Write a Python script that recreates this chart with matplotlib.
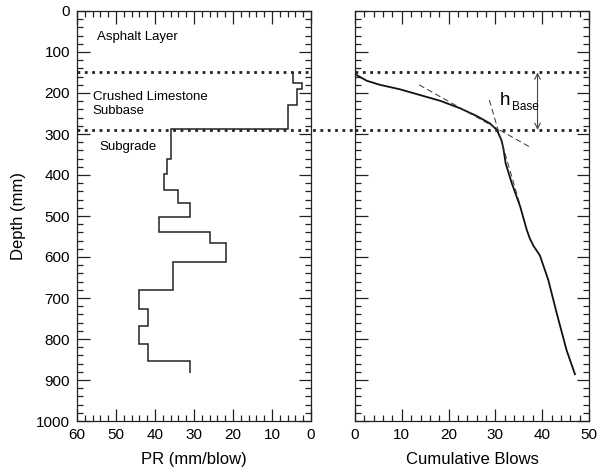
import numpy as np
import matplotlib.pyplot as plt
from matplotlib.ticker import MultipleLocator

plt.rcParams['font.family'] = ['Liberation Sans', 'DejaVu Sans']

# layer boundaries (mm)
base_top = 150
base_bottom = 290

# penetration rate steps: depth edges and PR per layer
pr_edges = [150, 176, 190, 229, 289, 362, 398, 437, 469, 502, 540, 567,
            611, 681, 726, 768, 811, 853, 884]
pr_values = [4.6, 2.2, 3.6, 6.0, 36.0, 37.0, 37.7, 34.0, 30.9, 38.9, 25.9,
             21.9, 35.3, 44.1, 41.9, 44.1, 41.9, 30.9]

# cumulative blows vs depth
blows = [0, 2.5, 5.3, 9.6, 13.9, 18.2, 22.4, 26.0, 28.8, 30.3, 31.3, 31.7,
         31.9, 32.2, 33.5, 35.3, 36.7, 37.4, 38.2, 39.5, 41.3, 43.1, 45.2, 47.0]
blow_depth = [154, 170, 180, 191, 205, 219, 237, 256, 274, 290, 315, 335,
              350, 372, 420, 477, 534, 556, 574, 596, 656, 737, 827, 886]

# tangent lines (blows, depth)
tan1_x = [13.7, 37.4]
tan1_y = [180, 332]
tan2_x = [28.7, 35.4]
tan2_y = [217, 478]

fig = plt.figure(figsize=(5.97, 4.73), dpi=100)
ax1 = fig.add_axes([77 / 597, 1 - 421 / 473, 234 / 597, 410 / 473])
ax2 = fig.add_axes([355 / 597, 1 - 421 / 473, 234 / 597, 410 / 473])

for ax in (ax1, ax2):
    ax.set_ylim(1000, 0)
    ax.yaxis.set_major_locator(MultipleLocator(100))
    ax.yaxis.set_minor_locator(MultipleLocator(20))
    ax.xaxis.set_major_locator(MultipleLocator(10))
    ax.xaxis.set_minor_locator(MultipleLocator(2))
    ax.tick_params(which='both', direction='in', top=True, right=True,
                   width=0.9, labelsize=11, pad=5, color='#222222')
    ax.tick_params(which='major', length=9)
    ax.tick_params(which='minor', length=4.5)
    for s in ax.spines.values():
        s.set_linewidth(0.9)
        s.set_color('#222222')

# left panel
ax1.set_xlim(60, 0)
ax1.stairs(pr_values, pr_edges, orientation='horizontal', baseline=None,
           color='#222222', lw=1.1)
ax1.axhline(base_top, color='#222222', ls=':', lw=2)
ax1.axhline(base_bottom, xmin=0, xmax=1.19, color='#222222', ls=':', lw=2,
            clip_on=False)
ax1.text(54.9, 63, 'Asphalt Layer', fontsize=9.5, va='center')
ax1.text(56, 210, 'Crushed Limestone', fontsize=9.5, va='center')
ax1.text(56, 244, 'Subbase', fontsize=9.5, va='center')
ax1.text(54.2, 332, 'Subgrade', fontsize=9.5, va='center')
ax1.set_xlabel('PR (mm/blow)', fontsize=12, labelpad=7)
ax1.set_ylabel('Depth (mm)', fontsize=12, labelpad=7)

# right panel
ax2.set_xlim(0, 50)
ax2.tick_params(labelleft=False)
ax2.plot(blows, blow_depth, color='#111111', lw=1.3, solid_joinstyle='round')
ax2.plot(tan1_x, tan1_y, color='#333333', lw=0.7, dashes=(6, 3.5))
ax2.plot(tan2_x, tan2_y, color='#333333', lw=0.7, dashes=(6, 3.5))
ax2.axhline(base_top, color='#222222', ls=':', lw=2)
ax2.axhline(base_bottom, color='#222222', ls=':', lw=2)
ax2.annotate('', xy=(39, base_top), xytext=(39, base_bottom),
             arrowprops=dict(arrowstyle='<->', color='#444444', lw=0.8,
                             shrinkA=0, shrinkB=0))
ax2.text(31.0, 229, 'h', fontsize=13.5, va='baseline')
ax2.text(33.5, 242, 'Base', fontsize=8.5, va='baseline')
ax2.set_xlabel('Cumulative Blows', fontsize=12, labelpad=7)

fig.savefig('out.png', dpi=100)
